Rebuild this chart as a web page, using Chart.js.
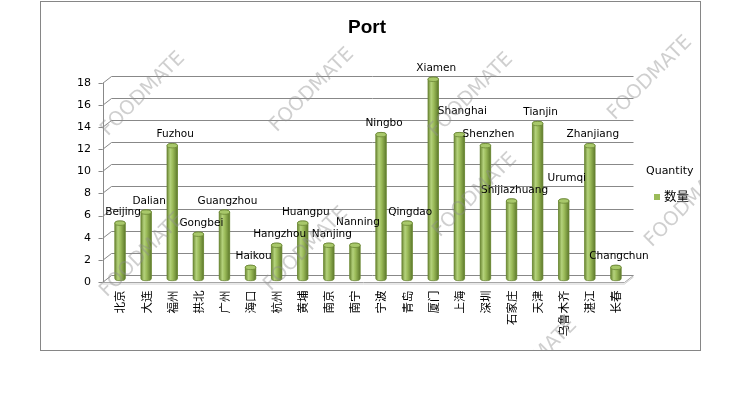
<!DOCTYPE html>
<html><head><meta charset="utf-8">
<script src="https://cdn.jsdelivr.net/npm/chart.js@4.4.1/dist/chart.umd.min.js"></script>
<style>html,body{margin:0;padding:0;background:#fff;}#wrap{width:742px;height:408px;position:relative}</style>
</head><body><div id="wrap"><canvas id="c" width="742" height="408"></canvas></div>
<script>
const categories = ['北京','大连','福州','拱北','广州','海口','杭州','黄埔','南京','南宁','宁波','青岛','厦门','上海','深圳','石家庄','天津','乌鲁木齐','湛江','长春'];
const englishNames = ['Beijing','Dalian','Fuzhou','Gongbei','Guangzhou','Haikou','Hangzhou','Huangpu','Nanjing','Nanning','Ningbo','Qingdao','Xiamen','Shanghai','Shenzhen','Shijiazhuang','Tianjin','Urumqi','Zhanjiang','Changchun'];
const quantity = [5,6,12,4,6,1,3,5,3,3,13,5,18,13,12,7,14,7,12,1];
const yTicks = [0,2,4,6,8,10,12,14,16,18];
const seriesName = '数量';
const legendTitle = 'Quantity';
const chartTitle = 'Port';
const watermarkText = 'FOODMATE';

const DX = 4.5, DY = 3.5;
const GRID = '#888888';

const framePlugin = {
  id: 'frame',
  beforeDraw(chart) {
    const ctx = chart.ctx;
    ctx.save();
    ctx.fillStyle = '#fff';
    ctx.fillRect(0, 0, chart.width, chart.height);
    ctx.strokeStyle = '#868686';
    ctx.lineWidth = 1;
    ctx.strokeRect(40.5, 1.5, 660, 349);
    ctx.restore();
  },
  beforeDatasetsDraw(chart) {
    const ctx = chart.ctx, ca = chart.chartArea, ys = chart.scales.y;
    const L = ca.left, R = ca.right;
    ctx.save();
    ctx.lineWidth = 1;
    ctx.strokeStyle = GRID;
    const r = v => Math.round(v) + 0.5;
    ys.ticks.forEach(t => {
      const y = ys.getPixelForValue(t.value);
      ctx.beginPath();
      ctx.moveTo(L - DX - 4, r(y + DY));
      ctx.lineTo(L - DX, r(y + DY));
      ctx.lineTo(L + DX, r(y - DY));
      ctx.lineTo(R + DX, r(y - DY));
      ctx.stroke();
    });
    ctx.beginPath();
    ctx.moveTo(r(L - DX), ys.getPixelForValue(yTicks[yTicks.length - 1]) + DY);
    ctx.lineTo(r(L - DX), ca.bottom + DY);
    ctx.stroke();
    ctx.strokeStyle = '#a6a6a6';
    ctx.beginPath();
    ctx.moveTo(L - DX, r(ca.bottom + DY));
    ctx.lineTo(R - DX, r(ca.bottom + DY));
    ctx.lineTo(R + DX, r(ca.bottom - DY));
    ctx.stroke();
    ctx.strokeStyle = '#d0d0d0';
    ctx.beginPath();
    ctx.moveTo(L - DX, r(ca.bottom + DY) + 1.5);
    ctx.lineTo(R - DX, r(ca.bottom + DY) + 1.5);
    ctx.lineTo(R + DX, r(ca.bottom - DY) + 1.5);
    ctx.stroke();
    ctx.restore();
  },
  afterDatasetsDraw(chart) {
    const ctx = chart.ctx;
    const meta = chart.getDatasetMeta(0);
    ctx.save();
    meta.data.forEach(el => {
      const x = el.x, top = el.y, base = el.base, rx = el.width / 2, ry = 2.2;
      const g = ctx.createLinearGradient(x - rx, 0, x + rx, 0);
      g.addColorStop(0, '#6d8935');
      g.addColorStop(0.3, '#b4d27c');
      g.addColorStop(0.55, '#9bbb59');
      g.addColorStop(1, '#5e7a2b');
      ctx.beginPath();
      ctx.moveTo(x - rx, top);
      ctx.lineTo(x - rx, base);
      ctx.ellipse(x, base, rx, ry, 0, Math.PI, 0, true);
      ctx.lineTo(x + rx, top);
      ctx.ellipse(x, top, rx, ry, 0, 0, Math.PI, true);
      ctx.closePath();
      ctx.fillStyle = g;
      ctx.fill();
      ctx.strokeStyle = '#6b8636';
      ctx.lineWidth = 0.8;
      ctx.stroke();
      ctx.beginPath();
      ctx.ellipse(x, top, rx, ry, 0, 0, Math.PI * 2);
      ctx.fillStyle = '#a8c86a';
      ctx.fill();
      ctx.stroke();
    });
    // data labels, placed from the lowest bar upwards, nudged up on overlap
    ctx.font = '10.5px "DejaVu Sans"';
    ctx.fillStyle = '#000';
    ctx.textAlign = 'center';
    ctx.textBaseline = 'middle';
    const order = quantity.map((v, i) => i).sort((a, b) => quantity[a] - quantity[b] || a - b);
    const placed = [];
    const h = 12;
    order.forEach(i => {
      const el = meta.data[i];
      const txt = englishNames[i];
      const w = ctx.measureText(txt).width;
      const cx = el.x + 3;
      let cy = el.y - 11;
      let moved = true;
      while (moved) {
        moved = false;
        for (const p of placed) {
          const dy = Math.abs(cy - p.cy);
          const xo = (w + p.w) / 2 - Math.abs(cx - p.cx);
          const limit = dy < 1 ? -4 : 14;
          if (xo > limit && dy < h) { cy -= h; moved = true; }
        }
      }
      placed.push({cx, cy, w});
      ctx.fillText(txt, cx, cy);
    });
    ctx.restore();
  },
  afterDraw(chart) {
    const ctx = chart.ctx;
    const ds = chart.data.datasets[0];
    ctx.save();
    ctx.fillStyle = '#000';
    ctx.font = '11px "DejaVu Sans"';
    ctx.textAlign = 'left';
    ctx.textBaseline = 'middle';
    ctx.fillText(legendTitle, 646, 171);
    ctx.fillStyle = ds.backgroundColor;
    ctx.fillRect(654, 194, 6, 6);
    ctx.fillStyle = '#000';
    ctx.font = '12.5px "Noto Sans CJK SC"';
    ctx.fillText(ds.label, 664, 196);
    ctx.beginPath();
    ctx.rect(41, 2, 659, 348);
    ctx.clip();
    ctx.font = '19.5px "DejaVu Sans"';
    ctx.textAlign = 'center';
    ctx.fillStyle = 'rgba(140,140,140,0.42)';
    const spots = [[143,94],[312,90],[471,95],[650,78],[142,255],[306,249],[475,195],[687,205],[535,361]];
    spots.forEach(([x, y]) => {
      ctx.save();
      ctx.translate(x, y);
      ctx.rotate(-Math.PI / 4);
      ctx.fillText(watermarkText, 0, 0);
      ctx.restore();
    });
    ctx.restore();
  }
};

new Chart(document.getElementById('c'), {
  type: 'bar',
  data: {
    labels: categories.map(s => s),
    datasets: [{
      label: seriesName,
      data: quantity,
      backgroundColor: '#9BBB59',
      borderWidth: 0,
      barPercentage: 0.5,
      categoryPercentage: 0.8
    }]
  },
  options: {
    responsive: false,
    animation: false,
    layout: { padding: { left: 0, right: 8, top: 0, bottom: 0 } },
    plugins: {
      legend: { display: false },
      tooltip: { enabled: false },
      title: {
        display: true,
        text: chartTitle,
        color: '#000',
        font: { family: 'Liberation Sans', size: 19, weight: 'bold' },
        padding: { top: 16, bottom: 40.5 }
      }
    },
    scales: {
      x: {
        grid: { display: false, drawTicks: false },
        border: { display: false },
        ticks: {
          autoSkip: false, minRotation: 90, maxRotation: 90, padding: 12,
          color: '#000', font: { family: 'Noto Sans CJK SC', size: 11.5 }
        },
        afterFit(s) { s.height = 129.5; }
      },
      y: {
        min: 0, max: 18,
        afterBuildTicks(s) { s.ticks = yTicks.map(v => ({ value: v })); },
        grid: { display: false, drawTicks: false },
        border: { display: false },
        ticks: { padding: 16, labelOffset: 3.5, color: '#000', font: { family: 'DejaVu Sans', size: 11 } },
        afterFit(s) { s.width = 107; }
      },
      y2: {
        position: 'right',
        grid: { display: false, drawTicks: false },
        border: { display: false },
        ticks: { display: false },
        afterFit(s) { s.width = 105; }
      }
    }
  },
  plugins: [framePlugin]
});
</script>
</body></html>
